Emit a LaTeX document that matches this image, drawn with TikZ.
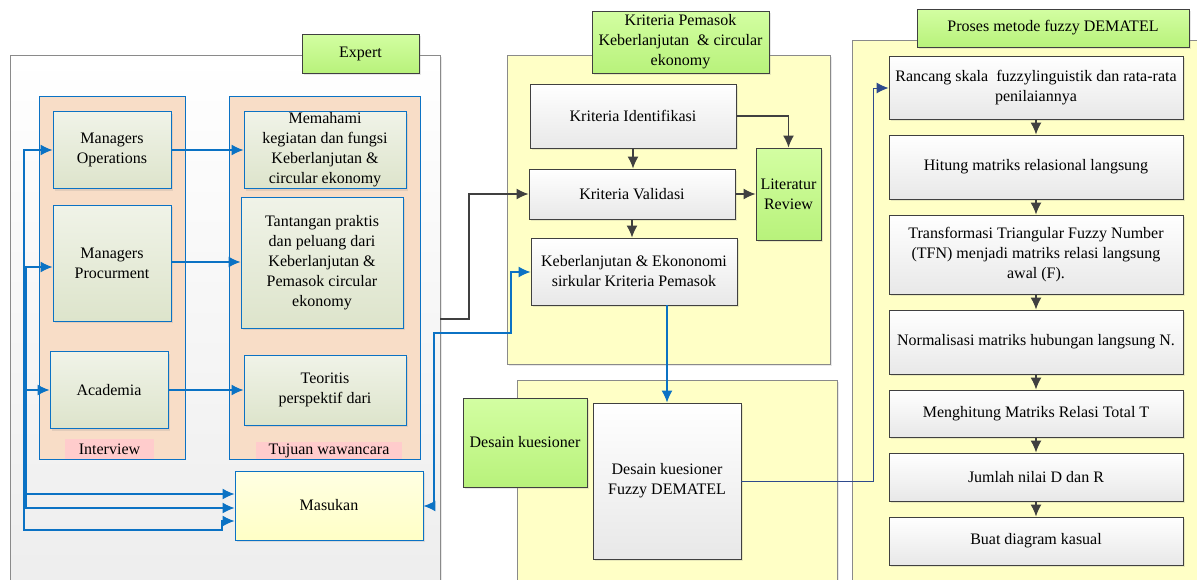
\documentclass[tikz,border=0pt]{standalone}
\usepackage{fontspec}
\setmainfont{Liberation Serif}
\usetikzlibrary{arrows.meta, shadows}

\definecolor{lineblue}{HTML}{0B72C4}
\definecolor{darkline}{HTML}{404040}
\definecolor{navyline}{HTML}{2E4A8C}
\definecolor{peach}{HTML}{F8DDC7}
\definecolor{sagetop}{HTML}{F0F3E8}
\definecolor{sagebot}{HTML}{DDE4CB}
\definecolor{pinklabel}{HTML}{FFCCCC}
\definecolor{paleyellow}{HTML}{FFFFC6}
\definecolor{limetop}{HTML}{D3FEA2}
\definecolor{limebot}{HTML}{B8F27B}
\definecolor{panelgray}{HTML}{EDEDED}
\definecolor{edgegray}{HTML}{8A8A8A}
\definecolor{boxgray}{HTML}{E8E8E8}

\tikzset{
	txt/.style={align=center, inner sep=0pt, font=\fontsize{16}{20}\selectfont},
	shade/.style={drop shadow={shadow xshift=2pt, shadow yshift=-2pt, opacity=0.18}},
	sagebox/.style={txt, shade, draw=lineblue, line width=0.9pt, top color=sagetop, bottom color=sagebot},
	graybox/.style={txt, shade, draw=darkline, line width=0.9pt, top color=white, bottom color=boxgray},
	limebox/.style={txt, shade, draw=darkline, line width=0.9pt, top color=limetop, bottom color=limebot},
	pinktag/.style={txt, fill=pinklabel},
	inputbox/.style={txt, shade, draw=lineblue, line width=0.9pt, top color=white!50!paleyellow, bottom color=paleyellow},
	panel/.style={shade, draw=edgegray, line width=0.9pt, fill=paleyellow},
	bluelink/.style={draw=lineblue, line width=1.4pt},
	graylink/.style={draw=darkline, line width=1.4pt},
	navylink/.style={draw=navyline, line width=1pt},
	tip/.style={arrows={-Latex[length=12pt, width=11pt]}},
	bothtips/.style={arrows={Latex[length=12pt, width=11pt]-Latex[length=12pt, width=11pt]}}
}

\begin{document}
\begin{tikzpicture}[x=1pt, y=-1pt]
	\useasboundingbox [fill=white] (0,0) rectangle (1197,579);

	\draw [shade, draw=edgegray, line width=0.9pt, top color=white, bottom color=panelgray] (10,55) rectangle (440,600);
	\draw [draw=lineblue, line width=0.9pt, fill=peach] (39,96) rectangle (185,459);
	\draw [draw=lineblue, line width=0.9pt, fill=peach] (229,96) rectangle (420,459);
	\draw [panel] (507,55) rectangle (830,364);
	\draw [panel] (517,380) rectangle (837,600);
	\draw [panel] (852,40) rectangle (1210,600);

	\node [limebox, minimum width=117, minimum height=39] (expert) at (360.5,53.5) {Expert};
	\node [sagebox, minimum width=118, minimum height=77] (MO) at (112,150) {Managers\\Operations};
	\node [sagebox, minimum width=118, minimum height=116] (MP) at (112,263) {Managers\\Procurment};
	\node [sagebox, minimum width=118, minimum height=77] (Aca) at (109,390) {Academia};
	\node [sagebox, minimum width=162, minimum height=77] (Mem) at (325,150) {Memahami\\kegiatan dan fungsi\\Keberlanjutan \&\\circular ekonomy};
	\node [sagebox, minimum width=162, minimum height=131] (Tan) at (322,262.5) {Tantangan praktis\\dan peluang dari\\Keberlanjutan \&\\Pemasok circular\\ekonomy};
	\node [sagebox, minimum width=162, minimum height=70] (Teo) at (325,390) {Teoritis\\perspektif dari};
	\node [pinktag, minimum width=89, minimum height=20] (interview) at (109.5,449) {Interview};
	\node [pinktag, minimum width=146, minimum height=17] (tujuan) at (329,450.5) {Tujuan wawancara};
	\node [inputbox, minimum width=188, minimum height=69] (Mas) at (329,505.5) {Masukan};
	\coordinate (expertout) at (440,319);

	\node [limebox, minimum width=177, minimum height=62] (kriteria) at (680.5,42) {Kriteria Pemasok\\Keberlanjutan~ \& circular\\ekonomy};
	\node [graybox, minimum width=206, minimum height=64] (KI) at (633,116) {Kriteria Identifikasi};
	\node [graybox, minimum width=206, minimum height=50] (KV) at (632,194) {Kriteria Validasi};
	\node [graybox, minimum width=206, minimum height=67] (KE) at (634,271.5) {Keberlanjutan \& Ekononomi\\sirkular Kriteria Pemasok};
	\node [limebox, minimum width=65, minimum height=92] (LR) at (788.5,194) {Literatur\\Review};

	\node [limebox, minimum width=124, minimum height=89] (DK) at (525,442.5) {Desain kuesioner};
	\node [graybox, minimum width=148, minimum height=156] (DKF) at (667,481) {Desain kuesioner\\Fuzzy DEMATEL};

	\node [limebox, minimum width=272, minimum height=38] (proses) at (1053,28) {Proses metode fuzzy DEMATEL};
	\node [graybox, minimum width=294, minimum height=63] (Ran) at (1036,87.5) {Rancang skala~ fuzzylinguistik dan rata-rata\\penilaiannya};
	\node [graybox, minimum width=294, minimum height=64] (Hit) at (1036,167) {Hitung matriks relasional langsung};
	\node [graybox, minimum width=294, minimum height=79] (Tra) at (1036,254.5) {Transformasi Triangular Fuzzy Number\\(TFN) menjadi matriks relasi langsung\\awal (F).};
	\node [graybox, minimum width=294, minimum height=64] (Nor) at (1036,342) {Normalisasi matriks hubungan langsung N.};
	\node [graybox, minimum width=294, minimum height=47] (Meng) at (1036,413.5) {Menghitung Matriks Relasi Total T};
	\node [graybox, minimum width=294, minimum height=48] (Jum) at (1036,477) {Jumlah nilai D dan R};
	\node [graybox, minimum width=294, minimum height=48] (Buat) at (1036,541) {Buat diagram kasual};

	\draw [bluelink, tip] (MO.east) -- (Mem.west |- MO.east);
	\draw [bluelink, tip] (MP.east |- 0,262) -- (Tan.west |- 0,262);
	\draw [bluelink, tip] (Aca.east) -- (Teo.west |- Aca.east);
	\draw [bluelink, bothtips] (MO.west) -- (24,150) -- (24,530) -- (222,530) -- (222,521) -- (Mas.west |- 0,521);
	\draw [bluelink, bothtips] (MP.west |- 0,267) -- (26,267) -- (26,508) -- (Mas.west |- 0,508);
	\draw [bluelink, bothtips] (Aca.west) -- (24,390) -- (24,494) -- (Mas.west |- 0,494);
	\draw [bluelink, bothtips] (Mas.east |- 0,506) -- (434,506) -- (434,333) -- (511,333) -- (511,272) -- (KE.west |- 0,272);

	\draw [graylink, tip] (expertout) -- (469,319) -- (469,194) -- (KV.west);
	\draw [graylink, tip] (KI.south) -- (KI.south |- KV.north);
	\draw [graylink, tip] (KI.east) -| (LR.north);
	\draw [graylink, tip] (KV.east) -- (LR.west |- KV.east);
	\draw [graylink, tip] (KV.south) -- (KV.south |- KE.north);
	\draw [bluelink, tip] (KE.south -| DKF.north) -- (DKF.north);

	\draw [navylink, tip] (DKF.east) -- (873,481) -- (873,88) -- (Ran.west |- 0,88);
	\foreach \a/\b in {Ran/Hit, Hit/Tra, Tra/Nor, Nor/Meng, Meng/Jum, Jum/Buat}
		\draw [graylink, tip] (\a.south) -- (\b.north);
\end{tikzpicture}
\end{document}
